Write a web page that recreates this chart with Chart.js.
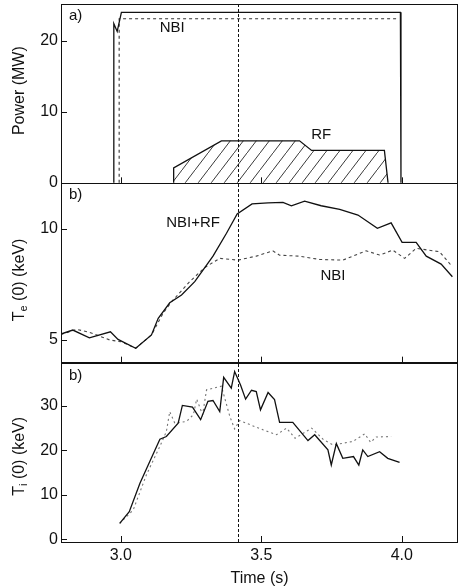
<!DOCTYPE html>
<html>
<head>
<meta charset="utf-8">
<script src="https://cdn.jsdelivr.net/npm/chart.js@4"></script>
<style>
  html, body { margin: 0; padding: 0; background: #fff; }
</style>
</head>
<body>
<canvas id="chart" width="460" height="588"></canvas>
<script>
// x axis
const xTicks = [3.0, 3.5, 4.0];
const markTime = 3.417;

// a) heating power (MW)
const nbiRfTime = [2.975, 2.975, 2.987, 3.002, 3.995, 3.997];
const nbiRfPower = [0, 22.4, 21.3, 24.0, 24.0, 0];
const nbiTime = [2.994, 2.994, 3.988];
const nbiPower = [0, 23.1, 23.1];
const rfTime = [3.188, 3.188, 3.358, 3.636, 3.679, 3.938, 3.951];
const rfPower = [0, 2.1, 5.9, 5.9, 4.55, 4.55, 0];
const powerTicks = [0, 10, 20];

// b) central electron temperature (keV)
const teRfTime = [2.787, 2.829, 2.888, 2.963, 2.990, 3.053, 3.109, 3.133, 3.174, 3.216, 3.263, 3.328, 3.376, 3.414,
  3.467, 3.524, 3.577, 3.607, 3.654, 3.713, 3.779, 3.844, 3.913, 3.962, 4.001, 4.051, 4.087, 4.140, 4.180];
const teRf = [5.27, 5.45, 5.10, 5.37, 5.03, 4.63, 5.23, 5.98, 6.68, 7.03, 7.63, 8.78, 9.81, 10.68,
  11.13, 11.18, 11.20, 11.05, 11.26, 11.05, 10.89, 10.63, 10.03, 10.28, 9.40, 9.40, 8.78, 8.42, 7.85];
const teNbiTime = [2.787, 2.843, 2.888, 2.961, 3.002, 3.053, 3.109, 3.150, 3.180, 3.245, 3.299, 3.352, 3.417,
  3.482, 3.541, 3.565, 3.636, 3.707, 3.790, 3.873, 3.921, 3.968, 4.010, 4.051, 4.134, 4.180];
const teNbi = [5.25, 5.48, 5.35, 5.00, 4.92, 4.63, 5.23, 6.20, 6.72, 7.63, 8.27, 8.68, 8.60,
  8.78, 9.02, 8.82, 8.78, 8.63, 8.60, 9.02, 8.83, 9.05, 8.68, 9.13, 8.98, 8.30];
const teTicks = [5, 10];

// c) central ion temperature (keV)
const tiRfTime = [2.996, 3.030, 3.068, 3.103, 3.139, 3.162, 3.204, 3.219, 3.255, 3.284, 3.310, 3.328, 3.352,
  3.366, 3.393, 3.405, 3.426, 3.444, 3.465, 3.482, 3.497, 3.524, 3.547, 3.565, 3.612, 3.666, 3.690, 3.737,
  3.749, 3.767, 3.790, 3.828, 3.847, 3.861, 3.879, 3.921, 3.950, 3.992];
const tiRf = [3.6, 6.2, 12.6, 17.5, 22.5, 23.1, 26.1, 30.1, 29.7, 26.9, 31.0, 31.2, 28.7,
  36.4, 34.0, 37.7, 34.7, 31.5, 33.5, 33.2, 29.1, 33.0, 31.4, 26.3, 26.3, 22.2, 23.5, 20.1,
  16.7, 21.5, 18.2, 18.6, 16.7, 20.1, 18.6, 19.7, 18.2, 17.3];
const tiNbiTime = [2.996, 3.044, 3.091, 3.139, 3.162, 3.174, 3.192, 3.234, 3.258, 3.270, 3.291, 3.305, 3.358,
  3.388, 3.405, 3.423, 3.506, 3.554, 3.590, 3.620, 3.679, 3.721, 3.756, 3.826, 3.868, 3.889, 3.909, 3.962];
const tiNbi = [3.6, 6.6, 14.5, 20.9, 24.2, 28.7, 26.1, 26.5, 28.0, 31.5, 28.0, 33.6, 34.4,
  27.6, 24.8, 26.7, 24.6, 23.5, 25.0, 22.7, 25.0, 22.4, 21.2, 22.0, 23.7, 21.8, 23.0, 23.1];
const tiTicks = [0, 10, 20, 30];

const FONT = '"Liberation Sans", Arial, Helvetica, sans-serif';
const INK = '#111';

const pts = (ts, vs) => ts.map((t, i) => ({ x: t, y: vs[i] }));

function hatchPattern() {
  const c = document.createElement('canvas');
  c.width = 13; c.height = 17;
  const g = c.getContext('2d');
  g.strokeStyle = '#222';
  g.lineWidth = 0.9;
  g.beginPath();
  g.moveTo(0, 17); g.lineTo(13, 0);
  g.stroke();
  return g.createPattern(c, 'repeat');
}

function line(ctx, x1, y1, x2, y2) {
  ctx.beginPath();
  ctx.moveTo(x1, y1);
  ctx.lineTo(x2, y2);
  ctx.stroke();
}

function vTitle(ctx, cx, cy, main, sub, rest) {
  ctx.save();
  ctx.translate(cx, cy);
  ctx.rotate(-Math.PI / 2);
  const big = '16px ' + FONT, small = '11px ' + FONT;
  ctx.font = big;
  const w1 = ctx.measureText(main).width;
  const w3 = ctx.measureText(rest).width;
  ctx.font = small;
  const w2 = sub ? ctx.measureText(sub).width : 0;
  const x0 = -(w1 + w2 + w3) / 2;
  ctx.fillStyle = INK;
  ctx.textAlign = 'left';
  ctx.textBaseline = 'middle';
  ctx.font = big;
  ctx.fillText(main, x0, 0);
  if (sub) {
    ctx.font = small;
    ctx.fillText(sub, x0 + w1, 4);
  }
  ctx.font = big;
  ctx.fillText(rest, x0 + w1 + w2, 0);
  ctx.restore();
}

// frames, inward ticks, marker line, labels and axis titles
const panelDecor = {
  id: 'panelDecor',
  afterDatasetsDraw(chart) {
    const { ctx, chartArea: area, scales } = chart;
    const xs = scales.x;
    ctx.save();
    ctx.strokeStyle = INK;
    ctx.lineWidth = 1;
    ['yP', 'yTe', 'yTi'].forEach(id => {
      const s = scales[id];
      ctx.strokeRect(area.left + 0.5, Math.round(s.top) + 0.5, area.right - area.left - 1, Math.round(s.bottom - s.top));
      s.ticks.forEach(t => {
        const py = Math.round(s.getPixelForValue(t.value)) + 0.5;
        line(ctx, area.left, py, area.left + 6, py);
      });
      xs.ticks.forEach(t => {
        const px = Math.round(xs.getPixelForValue(t.value)) + 0.5;
        line(ctx, px, s.bottom, px, s.bottom - 6);
      });
    });

    const mx = Math.round(xs.getPixelForValue(markTime)) + 0.5;
    ctx.setLineDash([3, 2]);
    line(ctx, mx, area.top, mx, area.bottom);
    ctx.setLineDash([]);

    ctx.fillStyle = INK;
    ctx.font = '15px ' + FONT;
    ctx.textBaseline = 'middle';
    ctx.textAlign = 'left';
    ctx.fillText('a)', area.left + 8, scales.yP.top + 12);
    ctx.fillText('b)', area.left + 8, scales.yTe.top + 12);
    ctx.fillText('b)', area.left + 8, scales.yTi.top + 13);

    ctx.textAlign = 'center';
    const notes = [
      ['NBI', 3.183, 21.8, 'yP'],
      ['RF', 3.713, 6.7, 'yP'],
      ['NBI+RF', 3.257, 10.26, 'yTe'],
      ['NBI', 3.755, 7.9, 'yTe']
    ];
    notes.forEach(([txt, t, v, id]) => {
      ctx.fillText(txt, xs.getPixelForValue(t), scales[id].getPixelForValue(v));
    });

    const mid = s => (s.top + s.bottom) / 2;
    vTitle(ctx, 19.5, mid(scales.yP) - 3, 'Power (MW)', '', '');
    vTitle(ctx, 20, mid(scales.yTe) + 7, 'T', 'e', ' (0) (keV)');
    vTitle(ctx, 20, mid(scales.yTi) + 4, 'T', 'i', ' (0) (keV)');
    ctx.restore();
  }
};

const tickFont = { family: FONT, size: 16 };

function yScale(ticks, min, max) {
  return {
    type: 'linear',
    position: 'left',
    stack: 'panels',
    stackWeight: 1,
    min: min,
    max: max,
    afterBuildTicks: s => { s.ticks = ticks.map(v => ({ value: v })); },
    afterFit: s => { s.width = 61; s.paddingTop = 0; s.paddingBottom = 0; },
    ticks: { font: tickFont, color: INK, padding: 3 },
    grid: { display: false, drawTicks: false },
    border: { display: false }
  };
}

const solid = { borderColor: INK, borderWidth: 1.3, pointRadius: 0, tension: 0, fill: false };

new Chart(document.getElementById('chart').getContext('2d'), {
  type: 'line',
  data: {
    datasets: [
      { ...solid, label: 'NBI+RF power', data: pts(nbiRfTime, nbiRfPower), yAxisID: 'yP' },
      { ...solid, label: 'NBI power', data: pts(nbiTime, nbiPower), yAxisID: 'yP', borderColor: '#333', borderWidth: 1.1, borderDash: [3, 3] },
      { ...solid, label: 'RF', data: pts(rfTime, rfPower), yAxisID: 'yP', fill: 'origin', backgroundColor: hatchPattern() },
      { ...solid, label: 'Te NBI+RF', data: pts(teRfTime, teRf), yAxisID: 'yTe' },
      { ...solid, label: 'Te NBI', data: pts(teNbiTime, teNbi), yAxisID: 'yTe', borderColor: '#444', borderWidth: 1.1, borderDash: [3, 3] },
      { ...solid, label: 'Ti NBI+RF', data: pts(tiRfTime, tiRf), yAxisID: 'yTi' },
      { ...solid, label: 'Ti NBI', data: pts(tiNbiTime, tiNbi), yAxisID: 'yTi', borderColor: '#777', borderWidth: 1.1, borderDash: [2, 3] }
    ]
  },
  options: {
    responsive: false,
    animation: false,
    layout: { padding: { left: 0, right: 2, top: 4, bottom: 0 } },
    plugins: { legend: { display: false }, tooltip: { enabled: false } },
    scales: {
      x: {
        type: 'linear',
        position: 'bottom',
        min: 2.787,
        max: 4.2,
        afterBuildTicks: s => { s.ticks = xTicks.map(v => ({ value: v })); },
        afterFit: s => { s.height = 46; s.paddingLeft = 0; s.paddingRight = 0; },
        ticks: { font: tickFont, color: INK, padding: 4, maxRotation: 0, callback: v => v.toFixed(1) },
        grid: { display: false, drawTicks: false },
        border: { display: false },
        title: { display: true, text: 'Time (s)', font: tickFont, color: INK, padding: { top: 2, bottom: 0 } }
      },
      // stacked panels are laid out bottom-up in definition order
      yTi: yScale(tiTicks, -0.6, 39.7),
      yTe: yScale(teTicks, 3.98, 12.06),
      yP: yScale(powerTicks, -0.08, 25.17)
    }
  },
  plugins: [panelDecor]
});
</script>
</body>
</html>
